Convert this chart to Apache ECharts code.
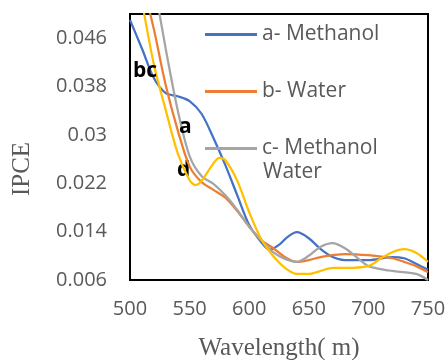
<!DOCTYPE html>
<html><head><meta charset="utf-8">
<script src="https://cdn.jsdelivr.net/npm/echarts@6/dist/echarts.min.js"></script>
<style>html,body{margin:0;padding:0;background:#fff}#c{width:447px;height:360px}</style>
</head><body><div id="c"></div>
<script>
const seriesNames = ['a- Methanol', 'b- Water', 'c- Methanol Water', 'd'];
const colors = ['#4472C4', '#ED7D31', '#A5A5A5', '#FFC000'];
const xTicks = [500, 550, 600, 650, 700, 750];
const yTicks = [0.006, 0.014, 0.022, 0.03, 0.038, 0.046];

const blueX = [500, 510, 520, 530, 540, 550, 560, 570, 580, 590, 600, 610, 617, 625, 632, 640, 650, 660, 670, 680, 700, 720, 730, 740, 750];
const blueY = [0.049, 0.0443, 0.0394, 0.0369, 0.0364, 0.0356, 0.0335, 0.0295, 0.025, 0.020, 0.0151, 0.0123, 0.011, 0.0118, 0.0131, 0.0139, 0.0129, 0.0111, 0.0098, 0.0093, 0.0093, 0.0098, 0.0096, 0.0087, 0.0077];

const orangeX = [500, 510, 520, 530, 540, 550, 560, 570, 580, 590, 600, 610, 620, 630, 640, 650, 660, 670, 680, 700, 720, 730, 740, 750];
const orangeY = [0.064, 0.0556, 0.0475, 0.0382, 0.0308, 0.0248, 0.0222, 0.0209, 0.0196, 0.0174, 0.0148, 0.0126, 0.0113, 0.0098, 0.009, 0.0093, 0.0098, 0.0101, 0.0103, 0.0101, 0.0096, 0.009, 0.0083, 0.0073];

const grayX = [500, 510, 520, 530, 540, 550, 560, 570, 580, 590, 600, 610, 620, 630, 640, 650, 660, 670, 680, 690, 700, 710, 720, 740, 750];
const grayY = [0.077, 0.066, 0.0553, 0.0442, 0.0341, 0.0265, 0.0232, 0.0219, 0.020, 0.0176, 0.0148, 0.0126, 0.0106, 0.0095, 0.009, 0.010, 0.0115, 0.0121, 0.0113, 0.0098, 0.0083, 0.0078, 0.0075, 0.007, 0.006];

const yellowX = [500, 510, 520, 530, 540, 550, 555, 560, 570, 575, 580, 590, 600, 610, 620, 630, 640, 650, 660, 670, 680, 700, 710, 720, 730, 740, 750];
const yellowY = [0.062, 0.052, 0.0417, 0.0341, 0.027, 0.0225, 0.0217, 0.0224, 0.0253, 0.0262, 0.0258, 0.0224, 0.0172, 0.0128, 0.010, 0.008, 0.007, 0.007, 0.0075, 0.008, 0.008, 0.0083, 0.0095, 0.0106, 0.0111, 0.0105, 0.009];

const xs = [blueX, orangeX, grayX, yellowX];
const ys = [blueY, orangeY, grayY, yellowY];

const chart = echarts.init(document.getElementById('c'));
const fmt = v => {
  const r = Math.round(v * 1000) / 1000;
  return yTicks.some(t => Math.abs(t - r) < 1e-9) ? String(r) : '';
};
chart.setOption({
  animation: false,
  grid: { left: 130, right: 19, top: 14, bottom: 80, show: true, borderColor: '#000', borderWidth: 2, containLabel: false, outerBoundsMode: 'none' },
  xAxis: {
    type: 'value', min: 500, max: 750, interval: 50,
    axisLine: { show: true, lineStyle: { color: '#000', width: 2 } },
    axisTick: { show: false }, splitLine: { show: false },
    axisLabel: { color: '#595959', fontSize: 20, fontFamily: 'Open Sans', margin: 19 },
    name: 'Wavelength( m)', nameLocation: 'middle', nameGap: 56,
    nameTextStyle: { color: '#595959', fontSize: 25, fontFamily: 'Liberation Serif' }
  },
  yAxis: {
    type: 'value', min: 0.006, max: 0.05, interval: 0.008,
    axisLine: { show: true, lineStyle: { color: '#000', width: 2 } },
    axisTick: { show: false }, splitLine: { show: false },
    axisLabel: { color: '#595959', fontSize: 20, fontFamily: 'Open Sans', margin: 23, formatter: fmt },
    name: 'IPCE', nameLocation: 'middle', nameGap: 95,
    nameTextStyle: { color: '#595959', fontSize: 25, fontFamily: 'Liberation Serif', padding: [0, 44, 0, 0] }
  },
  legend: {
    orient: 'vertical', left: 200, top: 19, itemWidth: 52, itemHeight: 3, itemGap: 36,
    icon: 'rect',
    data: seriesNames.slice(0, 3),
    formatter: n => n === 'c- Methanol Water' ? 'c- Methanol' : n,
    textStyle: { color: '#595959', fontSize: 21, fontFamily: 'Open Sans' }
  },
  graphic: [
    { type: 'text', left: 263, top: 162, style: { text: 'Water', fill: '#595959', font: '21px "Open Sans"' } },
    { type: 'text', left: 133, top: 61, z: 100, style: { text: 'bc', fill: '#000', font: 'bold 21px "Open Sans"' } },
    { type: 'text', left: 179, top: 117, z: 100, style: { text: 'a', fill: '#000', font: 'bold 21px "Open Sans"' } },
    { type: 'text', left: 177, top: 160, z: 0, style: { text: 'd', fill: '#000', font: 'bold 21px "Open Sans"' } }
  ],
  series: seriesNames.map((n, i) => ({
    name: n, type: 'line', smooth: 0.3, showSymbol: false, clip: true,
    lineStyle: { color: colors[i], width: 2.25 }, itemStyle: { color: colors[i] },
    data: xs[i].map((x, j) => [x, ys[i][j]])
  }))
});
</script></body></html>
